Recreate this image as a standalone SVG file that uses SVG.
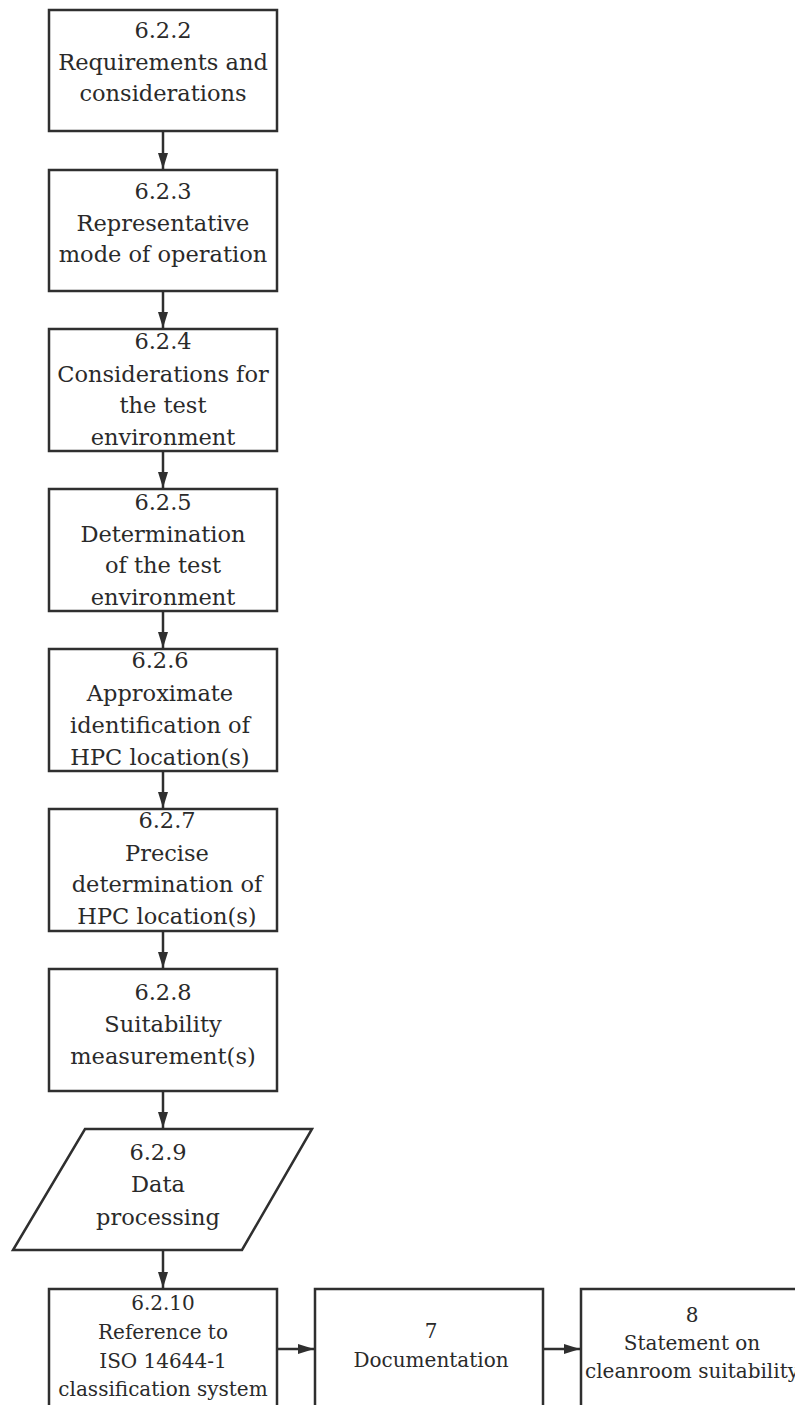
<svg xmlns="http://www.w3.org/2000/svg" width="795" height="1405" viewBox="0 0 795 1405">
<style>
.box{fill:#fff;stroke:#2f2f2f;stroke-width:2.5}
.t{font-family:"DejaVu Serif","Liberation Serif",serif;font-size:22.5px;fill:#2a2a2a;text-anchor:middle}
.s{font-size:20px}
.c{stroke:#2f2f2f;stroke-width:2.5;fill:none}
</style>
<defs>
<marker id="av" markerWidth="16" markerHeight="10" refX="16" refY="5" orient="auto" markerUnits="userSpaceOnUse" viewBox="0 0 16 10">
<path d="M0,0 L16,5 L0,10 Z" fill="#2f2f2f"/>
</marker>
</defs>
<rect width="795" height="1405" fill="#fff"/>
<g id="connectors">
<line class="c" x1="163" y1="131" x2="163" y2="169" marker-end="url(#av)"/>
<line class="c" x1="163" y1="291" x2="163" y2="328" marker-end="url(#av)"/>
<line class="c" x1="163" y1="451" x2="163" y2="488" marker-end="url(#av)"/>
<line class="c" x1="163" y1="611" x2="163" y2="648" marker-end="url(#av)"/>
<line class="c" x1="163" y1="771" x2="163" y2="808" marker-end="url(#av)"/>
<line class="c" x1="163" y1="931" x2="163" y2="968" marker-end="url(#av)"/>
<line class="c" x1="163" y1="1091" x2="163" y2="1128" marker-end="url(#av)"/>
<line class="c" x1="163" y1="1251" x2="163" y2="1288" marker-end="url(#av)"/>
<line class="c" x1="277" y1="1349" x2="314" y2="1349" marker-end="url(#av)"/>
<line class="c" x1="543" y1="1349" x2="580" y2="1349" marker-end="url(#av)"/>
</g>
<g id="n622">
<rect class="box" x="49" y="10" width="228" height="121"/>
<text class="t" x="163" y="38">6.2.2</text>
<text class="t" x="163" y="70">Requirements and</text>
<text class="t" x="163" y="101">considerations</text>
</g>
<g id="n623">
<rect class="box" x="49" y="170" width="228" height="121"/>
<text class="t" x="163" y="199">6.2.3</text>
<text class="t" x="163" y="231">Representative</text>
<text class="t" x="163" y="262">mode of operation</text>
</g>
<g id="n624">
<rect class="box" x="49" y="329" width="228" height="122"/>
<text class="t" x="163" y="349">6.2.4</text>
<text class="t" x="163" y="382">Considerations for</text>
<text class="t" x="163" y="413">the test</text>
<text class="t" x="163" y="445">environment</text>
</g>
<g id="n625">
<rect class="box" x="49" y="489" width="228" height="122"/>
<text class="t" x="163" y="510">6.2.5</text>
<text class="t" x="163" y="542">Determination</text>
<text class="t" x="163" y="573">of the test</text>
<text class="t" x="163" y="605">environment</text>
</g>
<g id="n626">
<rect class="box" x="49" y="649" width="228" height="122"/>
<text class="t" x="160" y="668">6.2.6</text>
<text class="t" x="160" y="701">Approximate</text>
<text class="t" x="160" y="733">identification of</text>
<text class="t" x="160" y="765">HPC location(s)</text>
</g>
<g id="n627">
<rect class="box" x="49" y="809" width="228" height="122"/>
<text class="t" x="167" y="828">6.2.7</text>
<text class="t" x="167" y="861">Precise</text>
<text class="t" x="167" y="892">determination of</text>
<text class="t" x="167" y="924">HPC location(s)</text>
</g>
<g id="n628">
<rect class="box" x="49" y="969" width="228" height="122"/>
<text class="t" x="163" y="1000">6.2.8</text>
<text class="t" x="163" y="1032">Suitability</text>
<text class="t" x="163" y="1064">measurement(s)</text>
</g>
<g id="n629">
<polygon class="box" points="85,1129 312,1129 242,1250 13,1250"/>
<text class="t" x="158" y="1160">6.2.9</text>
<text class="t" x="158" y="1192">Data</text>
<text class="t" x="158" y="1225">processing</text>
</g>
<g id="n6210">
<rect class="box" x="49" y="1289" width="228" height="130"/>
<text class="t s" x="163" y="1310">6.2.10</text>
<text class="t s" x="163" y="1339">Reference to</text>
<text class="t s" x="163" y="1368">ISO 14644-1</text>
<text class="t s" x="163" y="1396">classification system</text>
</g>
<g id="n7">
<rect class="box" x="315" y="1289" width="228" height="130"/>
<text class="t s" x="431" y="1338">7</text>
<text class="t s" x="431" y="1367">Documentation</text>
</g>
<g id="n8">
<rect class="box" x="581" y="1289" width="228" height="130"/>
<text class="t s" x="692" y="1322">8</text>
<text class="t s" x="692" y="1350">Statement on</text>
<text class="t s" x="692" y="1378">cleanroom suitability</text>
</g>
</svg>
